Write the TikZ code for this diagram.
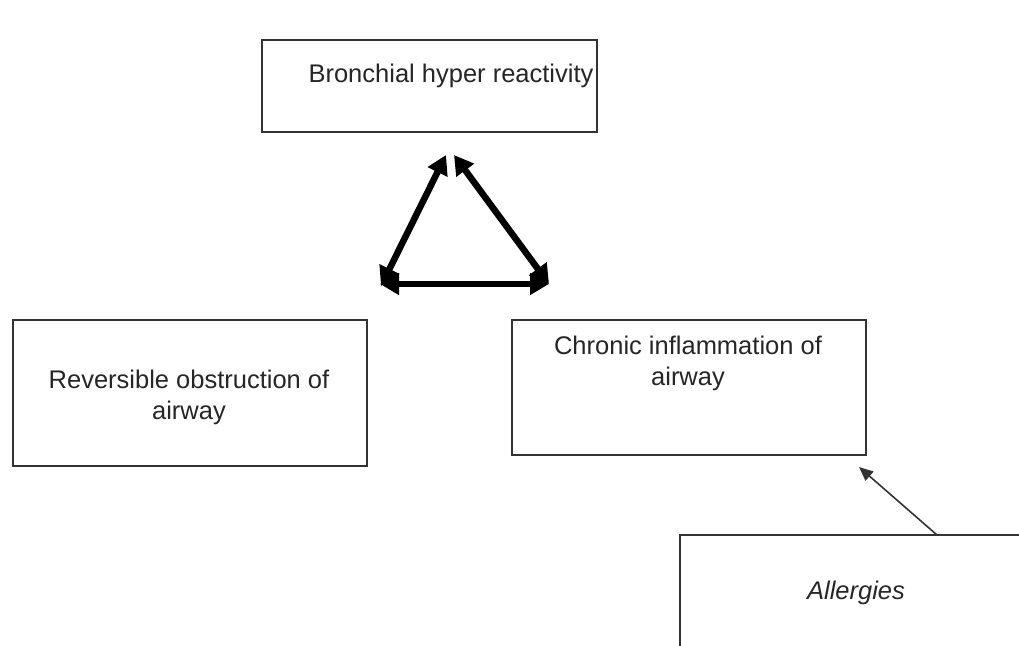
\documentclass[tikz,border=0pt]{standalone}
\usepackage{fontspec}
\setmainfont{Liberation Sans}
\usetikzlibrary{arrows.meta}
\tikzset{
  box/.style={draw=black!80, line width=1.4pt, fill=white, inner sep=0pt},
  lbl/.style={font=\fontsize{25.5}{31}\selectfont, text=black!85, align=center},
  bigarrow/.style={line width=6.5pt, {Triangle[length=19pt,width=21pt]}-{Triangle[length=19pt,width=21pt]}},
  thinarrow/.style={draw=black!80, line width=1.6pt, -{Triangle[length=14pt,width=12pt]}}
}
\begin{document}
\begin{tikzpicture}[x=1pt,y=-1pt]
\useasboundingbox (0,0) rectangle (1019,645);
\clip (0,0) rectangle (1019,645);
\node[box, minimum width=335pt, minimum height=92pt] (bhr) at (429.5,86) {};
\node[lbl] (bhrt) at (451,76) {Bronchial hyper reactivity};
\node[box, minimum width=354pt, minimum height=146pt] (rev) at (190,393) {};
\node[lbl] (revt) at (189,397) {Reversible obstruction of\\airway};
\node[box, minimum width=354pt, minimum height=135pt] (chr) at (689,387.5) {};
\node[lbl] (chrt) at (688,363) {Chronic inflammation of\\airway};
\node[box, minimum width=360pt, minimum height=130pt] (all) at (860,600) {};
\node[lbl, font=\fontsize{25.5}{31}\selectfont\itshape] (allt) at (856,593) {Allergies};
\coordinate (tl) at (446,155);
\coordinate (tr) at (454,155);
\coordinate (bl) at (381,286);
\coordinate (br) at (549,284);
\coordinate (bl2) at (380,284);
\coordinate (br2) at (549,284);
\draw[bigarrow] (bl) -- (tl);
\draw[bigarrow] (tr) -- (br);
\draw[bigarrow] (bl2) -- (br2);
\coordinate (as) at (937,535);
\coordinate (ae) at (859,467);
\draw[thinarrow] (as) -- (ae);
\end{tikzpicture}
\end{document}
